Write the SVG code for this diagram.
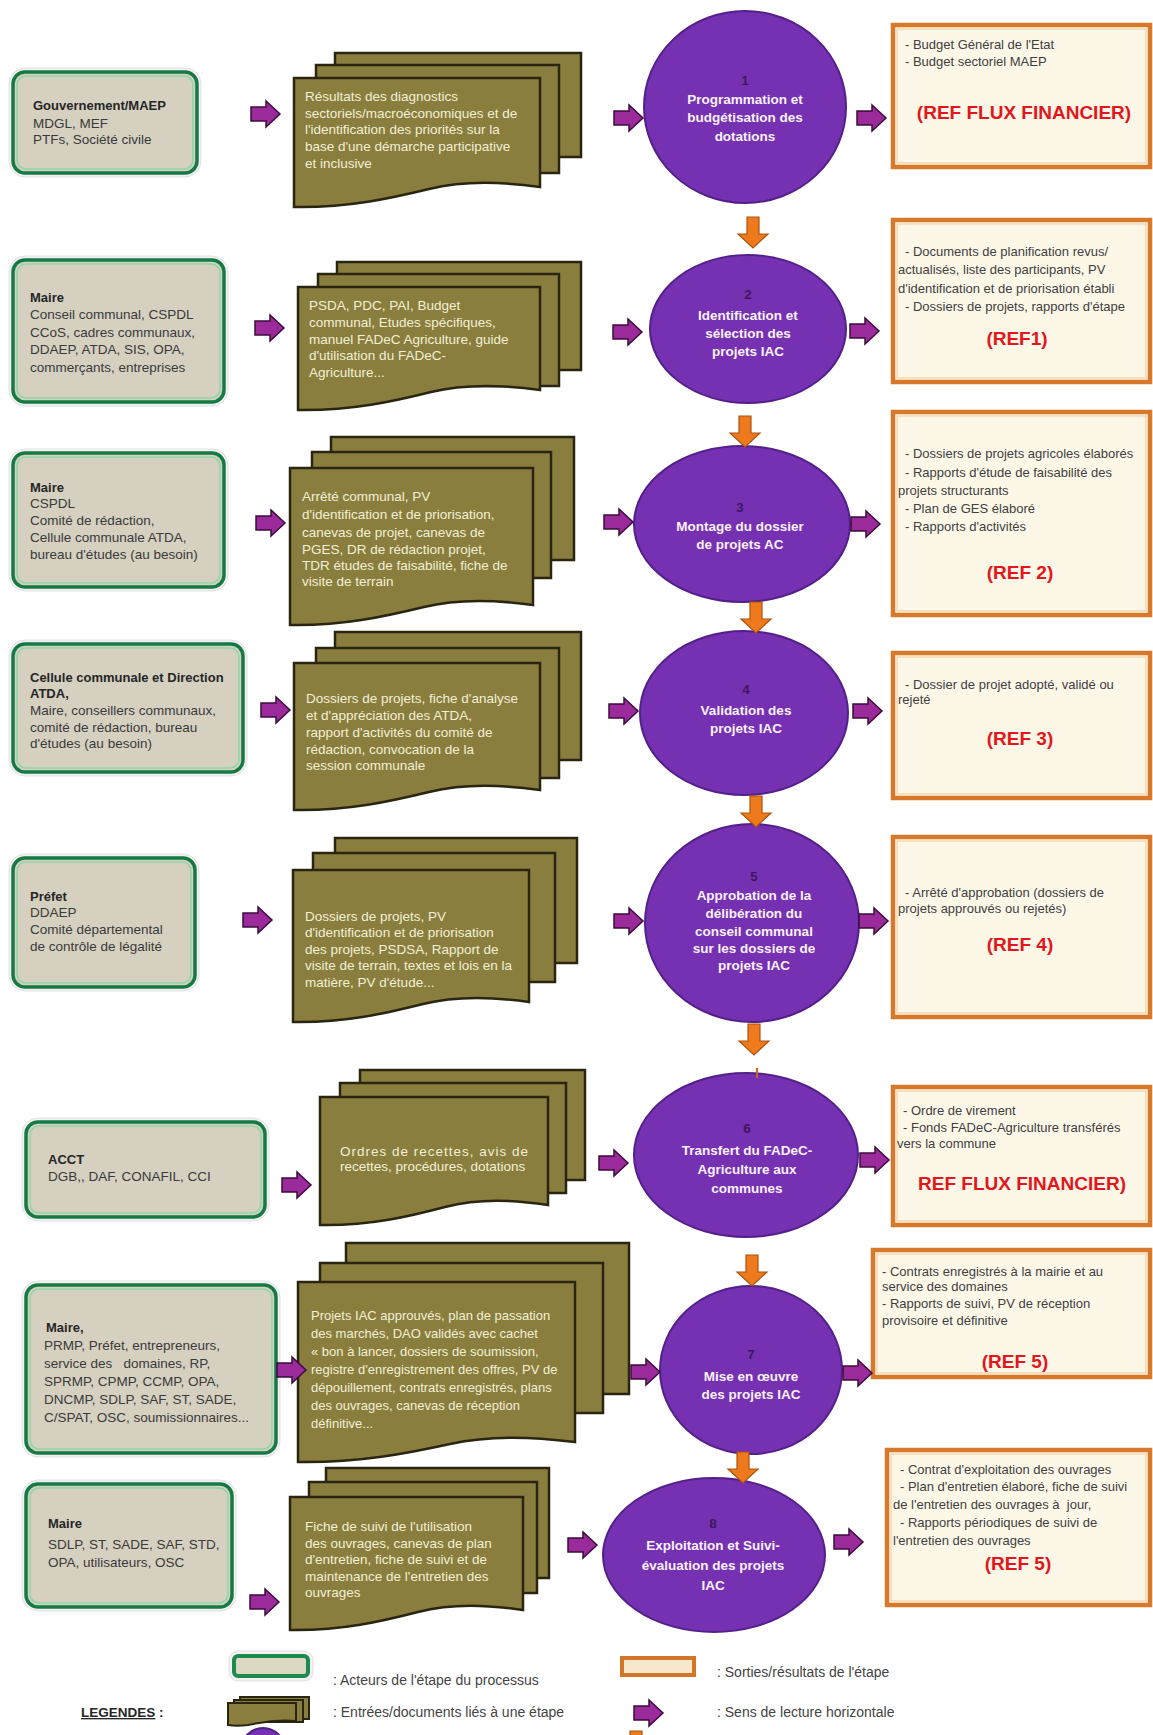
<svg xmlns="http://www.w3.org/2000/svg" xmlns:xlink="http://www.w3.org/1999/xlink" width="1153" height="1735" viewBox="0 0 1153 1735">
<defs>
<style>
text{font-family:"Liberation Sans",Arial,sans-serif}
.halo{fill:#f2f2f2;stroke:#e1e1e1;stroke-width:1}
.act{fill:#d5d0c0;stroke:#167a44;stroke-width:3.5}
.actin{fill:none;stroke:#8fd6a6;stroke-width:1.5}
.sheet{fill:#8a7e3f;stroke:#2a2511;stroke-width:2.5}
.circ{fill:#7531b2;stroke:#53208a;stroke-width:2}
.out{fill:#fdf7e8;stroke:#d6792b;stroke-width:4.5}
.outin{fill:none;stroke:#f3c997;stroke-width:1}
.t{font-size:13.5px;fill:#3a3a3a}
.tb{font-size:13px;font-weight:bold;fill:#262626}
.st{font-size:13.5px;fill:#f3efd4}
.ot{font-size:13px;fill:#404040}
.ref{font-size:19px;font-weight:bold;fill:#e3161c;text-anchor:middle}
.ct{font-size:13.5px;font-weight:bold;fill:#fbf2ff;text-anchor:middle}
.cn{font-size:13.5px;font-weight:bold;fill:#3e175e;text-anchor:middle}
.parr{fill:#9b2a9b;stroke:#3d0d3d;stroke-width:1.5}
.oarr{fill:#ee7a1d;stroke:#a9540f;stroke-width:1.2}
.lg{font-size:14px;fill:#444}
</style>
<path id="pa" d="M0,6 H15 V0 L29,13 L15,26 V20 H0 Z"/>
<path id="oa" d="M9,0 H21 V17 H30 L15,31 L0,17 H9 Z"/>
</defs>
<rect width="1153" height="1735" fill="#ffffff"/>

<!-- Actors -->
<g id="actor1">
<rect class="halo" x="9" y="68" width="192" height="109" rx="16"/>
<rect class="act" x="13" y="72" width="184" height="101" rx="12"/>
<rect class="actin" x="17" y="76" width="176" height="93" rx="9"/>
<text class="tb" x="33" y="110">Gouvernement/MAEP</text>
<text class="t" x="33" y="128">MDGL, MEF</text>
<text class="t" x="33" y="144">PTFs, Société civile</text>
</g>
<g id="actor2">
<rect class="halo" x="9" y="256" width="219" height="150" rx="16"/>
<rect class="act" x="13" y="260" width="211" height="142" rx="12"/>
<rect class="actin" x="17" y="264" width="203" height="134" rx="9"/>
<text class="tb" x="30" y="302">Maire</text>
<text class="t" x="30" y="319">Conseil communal, CSPDL</text>
<text class="t" x="30" y="337">CCoS, cadres communaux,</text>
<text class="t" x="30" y="354">DDAEP, ATDA, SIS, OPA,</text>
<text class="t" x="30" y="372">commerçants, entreprises</text>
</g>
<g id="actor3">
<rect class="halo" x="9" y="449" width="219" height="142" rx="16"/>
<rect class="act" x="13" y="453" width="211" height="134" rx="12"/>
<rect class="actin" x="17" y="457" width="203" height="126" rx="9"/>
<text class="tb" x="30" y="492">Maire</text>
<text class="t" x="30" y="508">CSPDL</text>
<text class="t" x="30" y="525">Comité de rédaction,</text>
<text class="t" x="30" y="542">Cellule communale ATDA,</text>
<text class="t" x="30" y="559">bureau d'études (au besoin)</text>
</g>
<g id="actor4">
<rect class="halo" x="9" y="640" width="238" height="136" rx="16"/>
<rect class="act" x="13" y="644" width="230" height="128" rx="12"/>
<rect class="actin" x="17" y="648" width="222" height="120" rx="9"/>
<text class="tb" x="30" y="682">Cellule communale et Direction</text>
<text class="tb" x="30" y="698">ATDA,</text>
<text class="t" x="30" y="715">Maire, conseillers communaux,</text>
<text class="t" x="30" y="732">comité de rédaction, bureau</text>
<text class="t" x="30" y="748">d'études (au besoin)</text>
</g>
<g id="actor5">
<rect class="halo" x="9" y="854" width="190" height="137" rx="16"/>
<rect class="act" x="13" y="858" width="182" height="129" rx="12"/>
<rect class="actin" x="17" y="862" width="174" height="121" rx="9"/>
<text class="tb" x="30" y="901">Préfet</text>
<text class="t" x="30" y="917">DDAEP</text>
<text class="t" x="30" y="934">Comité départemental</text>
<text class="t" x="30" y="951">de contrôle de légalité</text>
</g>
<g id="actor6">
<rect class="halo" x="22" y="1118" width="247" height="103" rx="16"/>
<rect class="act" x="26" y="1122" width="239" height="95" rx="12"/>
<rect class="actin" x="30" y="1126" width="231" height="87" rx="9"/>
<text class="tb" x="48" y="1164">ACCT</text>
<text class="t" x="48" y="1181">DGB,, DAF, CONAFIL, CCI</text>
</g>
<g id="actor7">
<rect class="halo" x="22" y="1281" width="258" height="176" rx="16"/>
<rect class="act" x="26" y="1285" width="250" height="168" rx="12"/>
<rect class="actin" x="30" y="1289" width="242" height="160" rx="9"/>
<text class="tb" x="46" y="1332">Maire,</text>
<text class="t" x="44" y="1350">PRMP, Préfet, entrepreneurs,</text>
<text class="t" x="44" y="1368" xml:space="preserve">service des   domaines, RP,</text>
<text class="t" x="44" y="1386">SPRMP, CPMP, CCMP, OPA,</text>
<text class="t" x="44" y="1404">DNCMP, SDLP, SAF, ST, SADE,</text>
<text class="t" x="44" y="1422">C/SPAT, OSC, soumissionnaires...</text>
</g>
<g id="actor8">
<rect class="halo" x="22" y="1480" width="214" height="131" rx="16"/>
<rect class="act" x="26" y="1484" width="206" height="123" rx="12"/>
<rect class="actin" x="30" y="1488" width="198" height="115" rx="9"/>
<text class="tb" x="48" y="1528">Maire</text>
<text class="t" x="48" y="1549">SDLP, ST, SADE, SAF, STD,</text>
<text class="t" x="48" y="1567">OPA, utilisateurs, OSC</text>
</g>

<!-- Documents -->
<g id="docs1">
<rect class="sheet" x="335" y="53" width="246" height="104"/>
<rect class="sheet" x="316" y="65" width="243" height="108"/>
<path class="sheet" d="M294,78 H540 V187 C503,182 466,180 429,189 C392,198 348,208 294,207 Z"/>
<text class="st" x="305" y="101">Résultats des diagnostics</text>
<text class="st" x="305" y="118">sectoriels/macroéconomiques et de</text>
<text class="st" x="305" y="134">l'identification des priorités sur la</text>
<text class="st" x="305" y="151">base d'une démarche participative</text>
<text class="st" x="305" y="168">et inclusive</text>
</g>
<g id="docs2">
<rect class="sheet" x="337" y="262" width="244" height="108"/>
<rect class="sheet" x="318" y="274" width="241" height="112"/>
<path class="sheet" d="M298,287 H540 V390 C504,385 467,383 431,392 C395,401 351,411 298,410 Z"/>
<text class="st" x="309" y="310">PSDA, PDC, PAI, Budget</text>
<text class="st" x="309" y="327">communal, Etudes spécifiques,</text>
<text class="st" x="309" y="344">manuel FADeC Agriculture, guide</text>
<text class="st" x="309" y="360">d'utilisation du FADeC-</text>
<text class="st" x="309" y="377">Agriculture...</text>
</g>
<g id="docs3">
<rect class="sheet" x="331" y="437" width="243" height="123"/>
<rect class="sheet" x="312" y="452" width="239" height="126"/>
<path class="sheet" d="M290,468 H533 V605 C497,600 460,598 424,607 C387,616 343,626 290,625 Z"/>
<text class="st" x="302" y="501">Arrêté communal, PV</text>
<text class="st" x="302" y="519">d'identification et de priorisation,</text>
<text class="st" x="302" y="537">canevas de projet, canevas de</text>
<text class="st" x="302" y="554">PGES, DR de rédaction projet,</text>
<text class="st" x="302" y="570">TDR études de faisabilité, fiche de</text>
<text class="st" x="302" y="586">visite de terrain</text>
</g>
<g id="docs4">
<rect class="sheet" x="335" y="632" width="246" height="128"/>
<rect class="sheet" x="316" y="648" width="243" height="130"/>
<path class="sheet" d="M294,663 H540 V790 C503,785 466,783 429,792 C392,801 348,811 294,810 Z"/>
<text class="st" x="306" y="703">Dossiers de projets, fiche d'analyse</text>
<text class="st" x="306" y="720">et d'appréciation des ATDA,</text>
<text class="st" x="306" y="737">rapport d'activités du comité de</text>
<text class="st" x="306" y="754">rédaction, convocation de la</text>
<text class="st" x="306" y="770">session communale</text>
</g>
<g id="docs5">
<rect class="sheet" x="335" y="838" width="242" height="125"/>
<rect class="sheet" x="313" y="853" width="242" height="129"/>
<path class="sheet" d="M293,870 H529 V1002 C494,997 458,995 423,1004 C387,1013 345,1023 293,1022 Z"/>
<text class="st" x="305" y="921">Dossiers de projets, PV</text>
<text class="st" x="305" y="937">d'identification et de priorisation</text>
<text class="st" x="305" y="954">des projets, PSDSA, Rapport de</text>
<text class="st" x="305" y="970">visite de terrain, textes et lois en la</text>
<text class="st" x="305" y="987">matière, PV d'étude...</text>
</g>
<g id="docs6">
<rect class="sheet" x="360" y="1070" width="225" height="110"/>
<rect class="sheet" x="340" y="1083" width="226" height="110"/>
<path class="sheet" d="M320,1097 H548 V1205 C514,1200 480,1198 445,1207 C411,1216 370,1226 320,1225 Z"/>
<text class="st" x="340" y="1156" textLength="188" lengthAdjust="spacing">Ordres de recettes, avis de</text>
<text class="st" x="340" y="1171">recettes, procédures, dotations</text>
</g>
<g id="docs7">
<rect class="sheet" x="346" y="1243" width="283" height="151"/>
<rect class="sheet" x="320" y="1263" width="283" height="150"/>
<path class="sheet" d="M298,1282 H575 V1442 C533,1437 492,1435 450,1444 C409,1453 359,1463 298,1462 Z"/>
<text class="st" x="311" y="1320" style="font-size:13px">Projets IAC approuvés, plan de passation</text>
<text class="st" x="311" y="1338" style="font-size:13px">des marchés, DAO validés avec cachet</text>
<text class="st" x="311" y="1356" style="font-size:13px">« bon à lancer, dossiers de soumission,</text>
<text class="st" x="311" y="1374" style="font-size:13px">registre d'enregistrement des offres, PV de</text>
<text class="st" x="311" y="1392" style="font-size:13px">dépouillement, contrats enregistrés, plans</text>
<text class="st" x="311" y="1410" style="font-size:13px">des ouvrages, canevas de réception</text>
<text class="st" x="311" y="1428" style="font-size:13px">définitive...</text>
</g>
<g id="docs8">
<rect class="sheet" x="326" y="1468" width="223" height="110"/>
<rect class="sheet" x="309" y="1482" width="228" height="111"/>
<path class="sheet" d="M290,1497 H523 V1610 C488,1605 453,1603 418,1612 C383,1621 341,1631 290,1630 Z"/>
<text class="st" x="305" y="1531">Fiche de suivi de l'utilisation</text>
<text class="st" x="305" y="1548">des ouvrages, canevas de plan</text>
<text class="st" x="305" y="1564">d'entretien, fiche de suivi et de</text>
<text class="st" x="305" y="1581">maintenance de l'entretien des</text>
<text class="st" x="305" y="1597">ouvrages</text>
</g>

<!-- Steps -->
<g id="step1">
<ellipse class="circ" cx="745" cy="107" rx="101" ry="96"/>
<text class="cn" x="745" y="85">1</text>
<text class="ct" x="745" y="104">Programmation et</text>
<text class="ct" x="745" y="122">budgétisation des</text>
<text class="ct" x="745" y="141">dotations</text>
</g>
<g id="step2">
<ellipse class="circ" cx="748" cy="329" rx="98" ry="74"/>
<text class="cn" x="748" y="299">2</text>
<text class="ct" x="748" y="320">Identification et</text>
<text class="ct" x="748" y="338">sélection des</text>
<text class="ct" x="748" y="356">projets IAC</text>
</g>
<g id="step3">
<ellipse class="circ" cx="742" cy="524" rx="108" ry="78"/>
<text class="cn" x="740" y="512">3</text>
<text class="ct" x="740" y="531">Montage du dossier</text>
<text class="ct" x="740" y="549">de projets AC</text>
</g>
<g id="step4">
<ellipse class="circ" cx="744" cy="713" rx="104" ry="82"/>
<text class="cn" x="746" y="694">4</text>
<text class="ct" x="746" y="715">Validation des</text>
<text class="ct" x="746" y="733">projets IAC</text>
</g>
<g id="step5">
<ellipse class="circ" cx="752" cy="923" rx="107" ry="99"/>
<text class="cn" x="754" y="881">5</text>
<text class="ct" x="754" y="900">Approbation de la</text>
<text class="ct" x="754" y="918">délibération du</text>
<text class="ct" x="754" y="936">conseil communal</text>
<text class="ct" x="754" y="953">sur les dossiers de</text>
<text class="ct" x="754" y="970">projets IAC</text>
</g>
<g id="step6">
<ellipse class="circ" cx="746" cy="1155" rx="112" ry="82"/>
<text class="cn" x="747" y="1133">6</text>
<text class="ct" x="747" y="1155">Transfert du FADeC-</text>
<text class="ct" x="747" y="1174">Agriculture aux</text>
<text class="ct" x="747" y="1193">communes</text>
</g>
<g id="step7">
<ellipse class="circ" cx="751" cy="1370" rx="91" ry="84"/>
<text class="cn" x="751" y="1359">7</text>
<text class="ct" x="751" y="1381">Mise en œuvre</text>
<text class="ct" x="751" y="1399">des projets IAC</text>
</g>
<g id="step8">
<ellipse class="circ" cx="714" cy="1555" rx="111" ry="77"/>
<text class="cn" x="713" y="1528">8</text>
<text class="ct" x="713" y="1550">Exploitation et Suivi-</text>
<text class="ct" x="713" y="1570">évaluation des projets</text>
<text class="ct" x="713" y="1590">IAC</text>
</g>

<!-- Outputs -->
<g id="out1">
<rect class="out" x="893" y="25" width="257" height="142"/>
<rect class="outin" x="897" y="29" width="249" height="134"/>
<text class="ot" x="905" y="49">- Budget Général de l'Etat</text>
<text class="ot" x="905" y="66">- Budget sectoriel MAEP</text>
<text class="ref" x="1024" y="119">(REF FLUX FINANCIER)</text>
</g>
<g id="out2">
<rect class="out" x="893" y="220" width="257" height="162"/>
<rect class="outin" x="897" y="224" width="249" height="154"/>
<text class="ot" x="905" y="256">- Documents de planification revus/</text>
<text class="ot" x="898" y="274">actualisés, liste des participants, PV</text>
<text class="ot" x="898" y="293">d'identification et de priorisation établi</text>
<text class="ot" x="905" y="311">- Dossiers de projets, rapports d'étape</text>
<text class="ref" x="1017" y="345">(REF1)</text>
</g>
<g id="out3">
<rect class="out" x="893" y="412" width="257" height="203"/>
<rect class="outin" x="897" y="416" width="249" height="195"/>
<text class="ot" x="905" y="458">- Dossiers de projets agricoles élaborés</text>
<text class="ot" x="905" y="477">- Rapports d'étude de faisabilité des</text>
<text class="ot" x="898" y="495">projets structurants</text>
<text class="ot" x="905" y="513">- Plan de GES élaboré</text>
<text class="ot" x="905" y="531">- Rapports d'activités</text>
<text class="ref" x="1020" y="579">(REF 2)</text>
</g>
<g id="out4">
<rect class="out" x="893" y="653" width="257" height="145"/>
<rect class="outin" x="897" y="657" width="249" height="137"/>
<text class="ot" x="905" y="689">- Dossier de projet adopté, validé ou</text>
<text class="ot" x="898" y="704">rejeté</text>
<text class="ref" x="1020" y="745">(REF 3)</text>
</g>
<g id="out5">
<rect class="out" x="893" y="837" width="257" height="180"/>
<rect class="outin" x="897" y="841" width="249" height="172"/>
<text class="ot" x="905" y="897">- Arrêté d'approbation (dossiers de</text>
<text class="ot" x="898" y="913">projets approuvés ou rejetés)</text>
<text class="ref" x="1020" y="951">(REF 4)</text>
</g>
<g id="out6">
<rect class="out" x="893" y="1087" width="257" height="138"/>
<rect class="outin" x="897" y="1091" width="249" height="130"/>
<text class="ot" x="903" y="1115">- Ordre de virement</text>
<text class="ot" x="903" y="1132">- Fonds FADeC-Agriculture transférés</text>
<text class="ot" x="897" y="1148">vers la commune</text>
<text class="ref" x="1022" y="1190">REF FLUX FINANCIER)</text>
</g>
<g id="out7">
<rect class="out" x="873" y="1250" width="277" height="127"/>
<rect class="outin" x="877" y="1254" width="269" height="119"/>
<text class="ot" x="882" y="1276">- Contrats enregistrés à la mairie et au</text>
<text class="ot" x="882" y="1291">service des domaines</text>
<text class="ot" x="882" y="1308">- Rapports de suivi, PV de réception</text>
<text class="ot" x="882" y="1325">provisoire et définitive</text>
<text class="ref" x="1015" y="1368">(REF 5)</text>
</g>
<g id="out8">
<rect class="out" x="887" y="1450" width="263" height="155"/>
<rect class="outin" x="891" y="1454" width="255" height="147"/>
<text class="ot" x="900" y="1474">- Contrat d'exploitation des ouvrages</text>
<text class="ot" x="900" y="1491">- Plan d'entretien élaboré, fiche de suivi</text>
<text class="ot" x="893" y="1509" xml:space="preserve">de l'entretien des ouvrages à  jour,</text>
<text class="ot" x="900" y="1527">- Rapports périodiques de suivi de</text>
<text class="ot" x="893" y="1545">l'entretien des ouvrages</text>
<text class="ref" x="1018" y="1570">(REF 5)</text>
</g>

<!-- Connectors -->
<g id="connectors">
<use href="#pa" class="parr" x="251" y="101"/>
<use href="#pa" class="parr" x="614" y="105"/>
<use href="#pa" class="parr" x="857" y="105"/>
<use href="#pa" class="parr" x="255" y="315"/>
<use href="#pa" class="parr" x="613" y="319"/>
<use href="#pa" class="parr" x="850" y="318"/>
<use href="#pa" class="parr" x="256" y="510"/>
<use href="#pa" class="parr" x="604" y="509"/>
<use href="#pa" class="parr" x="851" y="511"/>
<use href="#pa" class="parr" x="261" y="697"/>
<use href="#pa" class="parr" x="609" y="698"/>
<use href="#pa" class="parr" x="853" y="698"/>
<use href="#pa" class="parr" x="243" y="907"/>
<use href="#pa" class="parr" x="614" y="908"/>
<use href="#pa" class="parr" x="859" y="908"/>
<use href="#pa" class="parr" x="282" y="1172"/>
<use href="#pa" class="parr" x="599" y="1150"/>
<use href="#pa" class="parr" x="860" y="1147"/>
<use href="#pa" class="parr" x="277" y="1357"/>
<use href="#pa" class="parr" x="631" y="1359"/>
<use href="#pa" class="parr" x="843" y="1360"/>
<use href="#pa" class="parr" x="250" y="1589"/>
<use href="#pa" class="parr" x="568" y="1532"/>
<use href="#pa" class="parr" x="834" y="1529"/>
<use href="#oa" class="oarr" x="738" y="217"/>
<use href="#oa" class="oarr" x="730" y="416"/>
<use href="#oa" class="oarr" x="741" y="602"/>
<use href="#oa" class="oarr" x="741" y="796"/>
<use href="#oa" class="oarr" x="739" y="1024"/>
<line x1="757" y1="1068" x2="757" y2="1078" stroke="#c06a1e" stroke-width="2"/>
<use href="#oa" class="oarr" x="737" y="1255"/>
<use href="#oa" class="oarr" x="728" y="1452"/>
</g>

<!-- Legend -->
<g id="legend">
<rect class="halo" x="229" y="1651" width="84" height="30" rx="9"/>
<rect x="234" y="1656" width="74" height="20" rx="4" fill="#dcd9c2" stroke="#1f8a50" stroke-width="4"/>
<text class="lg" x="333" y="1685">: Acteurs de l'étape du processus</text>
<rect x="622" y="1658" width="72" height="17" fill="#f7e8cc" stroke="#d27628" stroke-width="4"/>
<text class="lg" x="717" y="1677">: Sorties/résultats de l'étape</text>
<text x="81" y="1717" style="font-size:13.5px;font-weight:bold;fill:#262626"><tspan text-decoration="underline">LEGENDES</tspan> :</text>
<rect class="sheet" x="240" y="1697" width="69" height="22" style="stroke-width:2"/>
<rect class="sheet" x="234" y="1700" width="69" height="22" style="stroke-width:2"/>
<path class="sheet" d="M228,1703 H296 V1721 C280,1719 262,1722 248,1725 C240,1726 234,1726 228,1725 Z" style="stroke-width:2"/>
<text class="lg" x="333" y="1717">: Entrées/documents liés à une étape</text>
<use href="#pa" class="parr" x="634" y="1700"/>
<text class="lg" x="717" y="1717">: Sens de lecture horizontale</text>
<ellipse class="circ" cx="263" cy="1750" rx="22" ry="22"/>
<use href="#oa" class="oarr" x="621" y="1731"/>
</g>
</svg>
